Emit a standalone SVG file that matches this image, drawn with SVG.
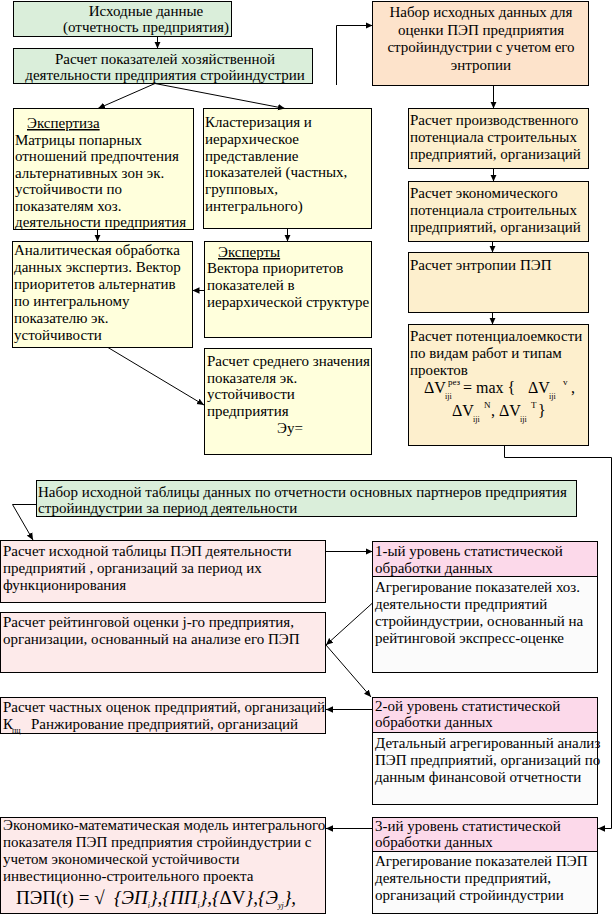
<svg xmlns="http://www.w3.org/2000/svg" width="614" height="915" viewBox="0 0 614 915">
<style>
text{font-family:"Liberation Serif","Times New Roman",serif;font-size:15px;fill:#000}
.c{text-anchor:middle}
.u{text-decoration:underline}
.b{stroke:#000;stroke-width:1}
.g{fill:#daeeda}
.y{fill:#ffffdc}
.pe{fill:#fde3cb}
.w{fill:#fdefcd}
.pk{fill:#fdeaea}
.hd{fill:#fcd9ea}
.bd{fill:#fbfbfb}
.sub{font-size:8px}
.sup{font-size:9px}
.m{font-size:16px}
.f{font-size:19px}
.i{font-style:italic}
#conn line,#conn path{stroke:#000;stroke-width:1;fill:none;marker-end:url(#ah)}
</style>
<defs>
<marker id="ah" viewBox="0 0 10 10" refX="10" refY="5" markerWidth="7" markerHeight="7" orient="auto" markerUnits="userSpaceOnUse"><path d="M0,0.5 L10,5 L0,9.5 z" fill="#000"/></marker>
</defs>
<rect width="614" height="915" fill="#fff"/>

<g id="nA"><rect class="b g" x="13.5" y="1.5" width="218" height="35"/>
<text class="c" x="146" y="16">Исходные данные</text><text class="c" x="146" y="32">(отчетность предприятия)</text></g>

<g id="nB"><rect class="b g" x="13.5" y="48.5" width="299" height="35"/>
<text class="c" x="165" y="64">Расчет показателей хозяйственной</text><text class="c" x="165" y="80">деятельности предприятия стройиндустрии</text></g>

<g id="nC"><rect class="b y" x="13.5" y="108.5" width="180" height="121"/>
<text class="u" x="27" y="128">Экспертиза</text>
<text x="15" y="144.5">Матрицы попарных</text>
<text x="15" y="161">отношений предпочтения</text>
<text x="15" y="177.5">альтернативных зон эк.</text>
<text x="15" y="194">устойчивости по</text>
<text x="15" y="210.5">показателям хоз.</text>
<text x="15" y="227">деятельности предприятия</text></g>

<g id="nD"><rect class="b y" x="203.5" y="108.5" width="168" height="120"/>
<text x="205" y="127">Кластеризация и</text>
<text x="205" y="144">иерархическое</text>
<text x="205" y="161">представление</text>
<text x="205" y="177">показателей (частных,</text>
<text x="205" y="194">групповых,</text>
<text x="205" y="211">интегрального)</text></g>

<g id="nE"><rect class="b y" x="12.5" y="241.5" width="180" height="106"/>
<text x="14" y="255">Аналитическая обработка</text>
<text x="14" y="272">данных экспертиз. Вектор</text>
<text x="14" y="289">приоритетов альтернатив</text>
<text x="14" y="306">по интегральному</text>
<text x="14" y="323">показателю эк.</text>
<text x="14" y="340">устойчивости</text></g>

<g id="nF"><rect class="b y" x="204.5" y="241.5" width="167" height="96"/>
<text class="u" x="218" y="257">Эксперты</text>
<text x="207" y="273">Вектора приоритетов</text>
<text x="207" y="290">показателей в</text>
<text x="207" y="307">иерархической структуре</text></g>

<g id="nG"><rect class="b y" x="204.5" y="348.5" width="167" height="106"/>
<text x="207" y="366">Расчет среднего значения</text>
<text x="207" y="383">показателя эк.</text>
<text x="207" y="399">устойчивости</text>
<text x="207" y="416">предприятия</text>
<text x="277" y="433">Эу=</text></g>

<g id="nH"><rect class="b pe" x="372.5" y="1.5" width="216" height="84"/>
<text class="c" x="481" y="17">Набор исходных данных для</text>
<text class="c" x="481" y="35">оценки ПЭП предприятия</text>
<text class="c" x="481" y="52">стройиндустрии с учетом его</text>
<text class="c" x="481" y="70">энтропии</text></g>

<g id="nI"><rect class="b w" x="408.5" y="108.5" width="180" height="60"/>
<text x="410" y="125">Расчет производственного</text>
<text x="410" y="142">потенциала строительных</text>
<text x="410" y="159">предприятий, организаций</text></g>

<g id="nJ"><rect class="b w" x="408.5" y="181.5" width="180" height="60"/>
<text x="410" y="198">Расчет экономического</text>
<text x="410" y="215">потенциала строительных</text>
<text x="410" y="232">предприятий, организаций</text></g>

<g id="nK"><rect class="b w" x="408.5" y="252.5" width="180" height="60"/>
<text x="410" y="270">Расчет энтропии ПЭП</text></g>

<g id="nL"><rect class="b w" x="408.5" y="324.5" width="180" height="121"/>
<text x="410" y="341">Расчет потенциалоемкости</text>
<text x="410" y="358">по видам работ и типам</text>
<text x="410" y="375">проектов</text>
<text class="m" x="424" y="393">ΔV<tspan class="sub" x="445" dy="6">iji</tspan><tspan class="sup" x="448" dy="-14">рез</tspan><tspan x="463" dy="8">= max {</tspan><tspan x="528">ΔV</tspan><tspan class="sub" x="549" dy="6">iji</tspan><tspan class="sup" x="563" dy="-14">v</tspan><tspan x="571" dy="8">,</tspan></text>
<text class="m" x="452" y="416">ΔV<tspan class="sub" x="473" dy="6">iji</tspan><tspan class="sup" x="484" dy="-14">N</tspan><tspan x="491" dy="8">,</tspan><tspan x="499">ΔV</tspan><tspan class="sub" x="520" dy="6">iji</tspan><tspan class="sup" x="531" dy="-14">T</tspan><tspan x="538" dy="8">}</tspan></text></g>

<g id="nM"><rect class="b g" x="36.5" y="480.5" width="540" height="36"/>
<text x="38" y="497">Набор исходной таблицы данных по отчетности основных партнеров предприятия</text>
<text x="38" y="513">стройиндустрии за период деятельности</text></g>

<g id="nN"><rect class="b pk" x="0.5" y="540.5" width="325" height="62"/>
<text x="3" y="556">Расчет исходной таблицы ПЭП деятельности</text>
<text x="3" y="573">предприятий , организаций за период их</text>
<text x="3" y="590">функционирования</text></g>

<g id="nP"><rect class="b pk" x="0.5" y="612.5" width="325" height="60"/>
<text x="3" y="627">Расчет рейтинговой оценки j-го предприятия,</text>
<text x="3" y="644">организации, основанный на анализе его ПЭП</text></g>

<g id="nR"><rect class="b pk" x="0.5" y="697.5" width="325" height="36"/>
<text x="3" y="712">Расчет частных оценок предприятий, организаций</text>
<text x="3" y="729">К</text><text class="sub" x="12" y="733">пц</text><text x="31" y="729">Ранжирование предприятий, организаций</text></g>

<g id="nT"><rect class="b pk" x="0.5" y="817.5" width="325" height="96"/>
<text x="3" y="830">Экономико-математическая модель интегрального</text>
<text x="3" y="847">показателя ПЭП предприятия стройиндустрии с</text>
<text x="3" y="864">учетом экономической  устойчивости</text>
<text x="3" y="881">инвестиционно-строительного проекта</text>
<text class="f" x="16" y="904">ПЭП(t) =  √</text>
<text class="f i" x="114" y="904">{ЭП<tspan class="sub" dy="4">i</tspan><tspan dy="-4">},{ПП</tspan><tspan class="sub" dy="4">i</tspan><tspan dy="-4">},{</tspan><tspan font-style="normal">ΔV</tspan>},{Э<tspan class="sub" dy="4">yj</tspan><tspan dy="-4">},</tspan></text></g>

<g id="nO"><rect class="b hd" x="372.5" y="541.5" width="225" height="35"/><rect class="b bd" x="372.5" y="576.5" width="225" height="96"/>
<text x="375" y="556">1-ый уровень статистической</text>
<text x="375" y="573">обработки данных</text>
<text x="375" y="592">Агрегирование показателей хоз.</text>
<text x="375" y="609">деятельности предприятий</text>
<text x="375" y="626">стройиндустрии, основанный на</text>
<text x="375" y="643">рейтинговой экспресс-оценке</text></g>

<g id="nQ"><rect class="b hd" x="372.5" y="697.5" width="225" height="35"/><rect class="b bd" x="372.5" y="732.5" width="225" height="72"/>
<text x="375" y="711">2-ой уровень статистической</text>
<text x="375" y="727">обработки данных</text>
<text x="375" y="748">Детальный агрегированный анализ</text>
<text x="375" y="765">ПЭП предприятий, организаций по</text>
<text x="375" y="782">данным финансовой отчетности</text></g>

<g id="nS"><rect class="b hd" x="372.5" y="817.5" width="225" height="34"/><rect class="b bd" x="372.5" y="851.5" width="225" height="62"/>
<text x="375" y="831">3-ий уровень статистической</text>
<text x="375" y="847">обработки данных</text>
<text x="375" y="866">Агрегирование показателей  ПЭП</text>
<text x="375" y="883">деятельности предприятий,</text>
<text x="375" y="900">организаций стройиндустрии</text></g>

<g id="conn">
<line x1="157.5" y1="36.5" x2="157.5" y2="48.5"/>
<line x1="155" y1="83.5" x2="98" y2="108.5"/>
<line x1="155" y1="83.5" x2="285" y2="108.5"/>
<line x1="97.5" y1="229.5" x2="97.5" y2="241.5"/>
<line x1="287.5" y1="228.5" x2="287.5" y2="241.5"/>
<line x1="204.5" y1="290.5" x2="192.5" y2="290.5"/>
<line x1="108" y1="347.5" x2="204" y2="405"/>
<path d="M336.5,85 V25.5 H372.5"/>
<line x1="493.5" y1="85.5" x2="493.5" y2="108.5"/>
<line x1="493.5" y1="168.5" x2="493.5" y2="181.5"/>
<line x1="492.5" y1="241.5" x2="492.5" y2="252.5"/>
<line x1="492.5" y1="312.5" x2="492.5" y2="324.5"/>
<path d="M504.5,445.5 V457.5 H611.5 V828.5 H598"/>
<path d="M36.5,504.5 H12.5 L33,540"/>
<line x1="325.5" y1="551.5" x2="372.5" y2="551.5"/>
<line x1="372.5" y1="603" x2="326" y2="645"/>
<line x1="326" y1="645" x2="371" y2="697"/>
<line x1="372.5" y1="709.5" x2="326" y2="709.5"/>
<line x1="372.5" y1="828.5" x2="326" y2="828.5"/>
</g>
</svg>
